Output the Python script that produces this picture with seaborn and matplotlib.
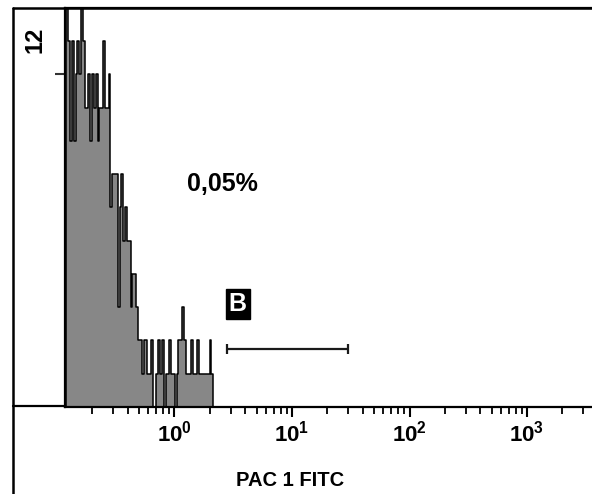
import numpy as np
import pandas as pd
import matplotlib
matplotlib.use("Agg")
import matplotlib.pyplot as plt
import seaborn as sns
from matplotlib import font_manager as fm
from matplotlib.lines import Line2D
from matplotlib.ticker import FixedLocator, FixedFormatter, LogLocator, NullFormatter

# ---------------- data ----------------
LOG_START = -0.92          # log10 of the first channel edge
BIN_W = 1 / 64             # channel width in decades
COUNTS = [12, 11, 8, 11, 8, 10, 11, 10, 12, 11,
          9, 9, 10, 8, 10, 9, 10, 8, 9, 9,
          11, 9, 9, 10, 6, 7, 7, 7, 3, 6,
          7, 5, 6, 5, 5, 3, 4, 4, 3, 2,
          2, 1, 2, 2, 1, 1, 2, 0, 0, 1,
          2, 1, 2, 0, 1, 1, 2, 1, 1, 0,
          1, 2, 2, 3, 2, 1, 1, 1, 2, 1,
          1, 2, 1, 1, 1, 1, 1, 1, 2, 1]
Y_MAX = 12
Y_TICKS = [10]
X_LIM = [0.117, 3573]
X_MAJOR = [1, 10, 100, 1000]
X_TICK_LABELS = [r"$\mathbf{10^{0}}$", r"$\mathbf{10^{1}}$",
                 r"$\mathbf{10^{2}}$", r"$\mathbf{10^{3}}$"]
GATE_X = [2.8, 30]
GATE_Y = 1.75
GATE_NAME = "B"
GATE_NAME_POS = (3.45, 3.1)
PCT_TEXT = "0,05%"
PCT_POS = (2.54, 6.7)
X_LABEL = "PAC 1 FITC"
Y_TOP_LABEL = "12"

# ---------------- fonts ----------------
sns.set_style("white")
names = {f.name for f in fm.fontManager.ttflist}
NARROW = "Liberation Sans Narrow" if "Liberation Sans Narrow" in names else "Liberation Sans"
REG = "Liberation Sans"
plt.rcParams["font.family"] = [REG, "DejaVu Sans"]
plt.rcParams["mathtext.fontset"] = "custom"
plt.rcParams["mathtext.rm"] = NARROW
plt.rcParams["mathtext.bf"] = NARROW + ":bold"
plt.rcParams["mathtext.it"] = NARROW + ":italic"

W, H = 592, 494
fig = plt.figure(figsize=(W / 100, H / 100), dpi=100)
ax_left, ax_right, ax_top, ax_bottom = 65, 592, 8, 407
ax = fig.add_axes([ax_left / W, 1 - ax_bottom / H,
                   (ax_right - ax_left) / W, (ax_bottom - ax_top) / H])

centers = 10 ** (LOG_START + (np.arange(len(COUNTS)) + 0.5) * BIN_W)
df = pd.DataFrame({"fl": centers, "count": COUNTS})

sns.histplot(data=df, x="fl", weights="count", log_scale=True,
             binwidth=BIN_W, binrange=(LOG_START, LOG_START + len(COUNTS) * BIN_W),
             element="step", fill=True, color="#878787", alpha=1,
             edgecolor="black", linewidth=1.1, ax=ax)

ax.set_xscale("log")
ax.set_xlim(*X_LIM)
ax.set_ylim(0, Y_MAX)

# gate
ax.plot(GATE_X, [GATE_Y, GATE_Y], color="#1a1a1a", lw=1.6,
        marker="|", ms=7, mew=1.6, solid_capstyle="butt")
ax.text(*GATE_NAME_POS, GATE_NAME, color="white", fontsize=18,
        fontweight="bold", family=NARROW, ha="center", va="center",
        bbox=dict(boxstyle="square,pad=0.12", fc="black", ec="black"))
ax.text(*PCT_POS, PCT_TEXT, fontsize=18, fontweight="bold", family=REG,
        ha="center", va="center", color="black")

# axes styling
for s in ["left", "top", "bottom"]:
    ax.spines[s].set_visible(True)
    ax.spines[s].set_color("black")
    ax.spines[s].set_linewidth(1.6)
ax.spines["right"].set_visible(False)

ax.yaxis.set_major_locator(FixedLocator(Y_TICKS))
ax.yaxis.set_major_formatter(NullFormatter())
ax.tick_params(axis="y", which="major", direction="out", length=7, width=1.5,
               color="#333333", left=True)

ax.xaxis.set_major_locator(FixedLocator(X_MAJOR))
ax.xaxis.set_major_formatter(FixedFormatter(X_TICK_LABELS))
ax.xaxis.set_minor_locator(LogLocator(base=10, subs=np.arange(2, 10), numticks=50))
ax.xaxis.set_minor_formatter(NullFormatter())
ax.tick_params(axis="x", which="major", direction="out", length=7, width=1.5,
               labelsize=16, pad=3, bottom=True, color="black", labelcolor="black")
ax.tick_params(axis="x", which="minor", direction="out", length=5, width=1.3,
               bottom=True, color="black")

ax.set_ylabel("")
ax.set_xlabel(X_LABEL, fontsize=14.5, fontweight="bold", family=NARROW, color="black")
ax.xaxis.set_label_coords((290 - ax_left) / (ax_right - ax_left),
                          (ax_bottom - 471) / (ax_bottom - ax_top))
ax.xaxis.label.set_va("top")

# outer frame of the plot window
fx = lambda px: px / W
fy = lambda py: 1 - py / H
fig.add_artist(Line2D([fx(13), fx(13)], [fy(8), fy(494)], color="black", lw=1.8))
fig.add_artist(Line2D([fx(13), fx(592)], [fy(8), fy(8)], color="black", lw=1.8))
fig.add_artist(Line2D([fx(13), fx(65)], [fy(406), fy(406)], color="black", lw=1.6))

fig.text(fx(35), fy(40), Y_TOP_LABEL, rotation=90, fontsize=17,
         fontweight="bold", family=REG, ha="center", va="center", color="black")

fig.savefig("out.png", dpi=100)
